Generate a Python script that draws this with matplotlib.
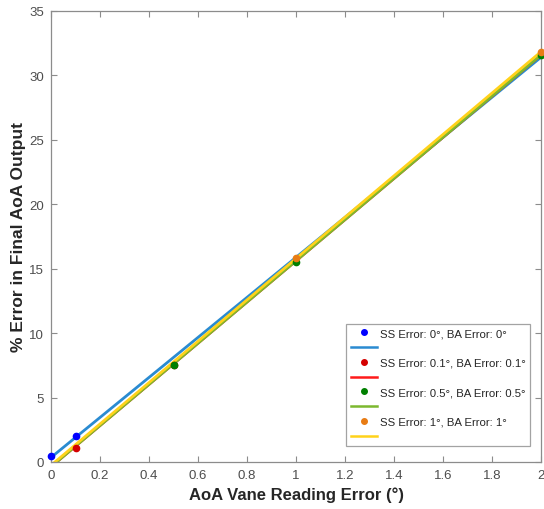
import numpy as np
import matplotlib
matplotlib.use("Agg")
import matplotlib.pyplot as plt
from matplotlib.lines import Line2D


# measured points per case (x = AoA vane error, y = % error in final AoA)
x_ss0 = [0.0, 0.1]
y_ss0 = [0.5, 2.0]
x_ss01 = [0.1, 0.5]
y_ss01 = [1.1, 7.5]
x_ss05 = [0.5, 1.0, 2.0]
y_ss05 = [7.55, 15.5, 31.6]
x_ss1 = [1.0, 2.0]
y_ss1 = [15.83, 31.85]

# linear fit lines (slope, intercept)
fit_slope = [15.53, 15.98, 15.98, 16.05]
fit_icpt = [0.35, -0.37, -0.37, -0.26]

labels = ["SS Error: 0°, BA Error: 0°",
          "SS Error: 0.1°, BA Error: 0.1°",
          "SS Error: 0.5°, BA Error: 0.5°",
          "SS Error: 1°, BA Error: 1°"]

dot_colors = ["#0000ff", "#d40000", "#008000", "#e87c14"]
line_colors = ["#2a8bd1", "#ff1a1a", "#7cb82f", "#ffd21a"]

plt.rcParams["font.family"] = ["Liberation Sans", "DejaVu Sans"]

fig = plt.figure(figsize=(5.44, 5.10), dpi=100)
ax = fig.add_axes([0.0938, 0.0922, 0.9007, 0.8843])

xs = [x_ss0, x_ss01, x_ss05, x_ss1]
ys = [y_ss0, y_ss01, y_ss05, y_ss1]
xx = np.array([0.0, 2.0])
for k in range(4):
    ax.plot(xx, fit_slope[k] * xx + fit_icpt[k], color=line_colors[k],
            lw=2.0, zorder=2)
for k in range(4):
    ax.plot(xs[k], ys[k], "o", color=dot_colors[k], ms=4.5,
            zorder=3, clip_on=False)

ax.set_xlim(0, 2)
ax.set_ylim(0, 35)
ax.set_xticks(np.arange(0, 2.01, 0.2))
ax.set_xticklabels(["0", "0.2", "0.4", "0.6", "0.8", "1", "1.2", "1.4",
                    "1.6", "1.8", "2"])
ax.set_yticks(np.arange(0, 36, 5))

gray = "#4d4d4d"
for s in ax.spines.values():
    s.set_color("#8c8c8c")
    s.set_linewidth(0.9)
ax.tick_params(direction="in", length=4, width=0.8, color="#8c8c8c",
               labelcolor=gray, labelsize=9.5, top=True, right=True, pad=5)

ax.set_xlabel("AoA Vane Reading Error (°)", fontsize=12, fontweight="bold",
              color="#262626", labelpad=4)
ax.set_ylabel("% Error in Final AoA Output", fontsize=12.5, fontweight="bold",
              color="#262626", labelpad=2)

# legend: dot row with label, then its fit line row without label
handles = []
names = []
for k in range(4):
    handles.append(Line2D([], [], ls="", marker="o", ms=4, color=dot_colors[k]))
    names.append(labels[k])
    handles.append(Line2D([], [], color=line_colors[k], lw=1.8))
    names.append(" ")
leg = ax.legend(handles, names, loc="lower right", bbox_to_anchor=(0.978, 0.035),
                bbox_transform=ax.transAxes, borderaxespad=0,
                fontsize=8.2, frameon=True, fancybox=False, handlelength=2.3,
                handletextpad=0.25, labelspacing=0.42, borderpad=0.4,
                numpoints=1)
leg.get_frame().set_edgecolor("#8c8c8c")
leg.get_frame().set_linewidth(0.9)
for t in leg.get_texts():
    t.set_color("#262626")

fig.savefig("out.png", dpi=100)
